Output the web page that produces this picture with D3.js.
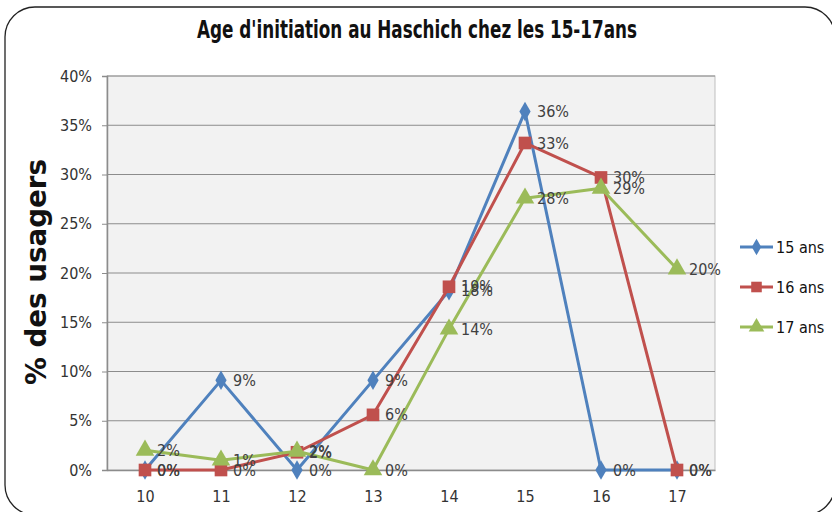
<!DOCTYPE html>
<html>
<head>
<meta charset="utf-8">
<script src="https://cdn.jsdelivr.net/npm/d3@7"></script>
<style>
  body { margin: 0; background: #fff; }
  text { font-family: "DejaVu Sans Condensed", "Open Sans", sans-serif; }
</style>
</head>
<body>
<div class="chartDiv"></div>
<script>
// Age d'initiation au Haschich - line chart

const ages = ["10", "11", "12", "13", "14", "15", "16", "17"];
const yTicks = [0, 0.05, 0.10, 0.15, 0.20, 0.25, 0.30, 0.35, 0.40];
const seriesNames = ["15 ans", "16 ans", "17 ans"];
const vals15 = [0, 9.1, 0, 9.1, 18.2, 36.4, 0, 0];
const vals16 = [0, 0, 1.8, 5.6, 18.6, 33.2, 29.7, 0];
const vals17 = [2.0, 1.0, 1.9, 0, 14.3, 27.6, 28.6, 20.4];

const colors = ["#4f81bd", "#c0504d", "#9bbb59"];
const symbols = [d3.symbolDiamond, d3.symbolSquare, d3.symbolTriangle];
const symSizes = [110, 160, 150];

const labelFont = '"DejaVu Sans Condensed", "Open Sans", sans-serif';

let svgWidth = 832;
let svgHeight = 512;

let margin = { top: 76, bottom: 42, left: 107, right: 117 };
let graphWidth = svgWidth - margin.left - margin.right;
let graphHeight = svgHeight - margin.top - margin.bottom;

let svg = d3.select('.chartDiv')
            .append('svg')
            .attr('width', svgWidth)
            .attr('height', svgHeight);

// outer rounded frame
svg.append('rect')
   .attr('x', 5).attr('y', 7)
   .attr('width', 830).attr('height', 508)
   .attr('rx', 30)
   .attr('fill', 'none')
   .attr('stroke', '#222')
   .attr('stroke-width', 1.3);

svg.append('text')
   .attr('x', 417).attr('y', 38)
   .attr('text-anchor', 'middle')
   .attr('font-size', 24)
   .attr('font-weight', 'bold')
   .attr('fill', '#111')
   .attr('textLength', 440)
   .attr('lengthAdjust', 'spacingAndGlyphs')
   .text("Age d'initiation au Haschich chez les 15-17ans");

let chartGroup = svg.append('g')
                    .attr('transform', `translate(${margin.left}, ${margin.top})`);

let xScale = d3.scalePoint()
               .domain(ages)
               .range([0, graphWidth])
               .padding(0.5);

let yScale = d3.scaleLinear()
               .domain([0, 0.4])
               .range([graphHeight, 0]);

// plot area
chartGroup.append('rect')
          .attr('width', graphWidth)
          .attr('height', graphHeight)
          .attr('fill', '#f2f2f2')
          .attr('stroke', '#bfbfbf');

// gridlines
chartGroup.append('g')
          .selectAll('line')
          .data(yTicks.slice(1))
          .enter().append('line')
          .attr('x1', 0).attr('x2', graphWidth)
          .attr('y1', d => yScale(d)).attr('y2', d => yScale(d))
          .attr('stroke', '#8c8c8c')
          .attr('stroke-width', 1);

let leftaxis = d3.axisLeft(yScale)
                 .tickValues(yTicks)
                 .tickFormat(d3.format('.0%'))
                 .tickSize(5)
                 .tickPadding(10);

let bottomaxis = d3.axisBottom(xScale)
                   .tickSize(0)
                   .tickPadding(21);

let yAxisG = chartGroup.append('g').call(leftaxis);
let xAxisG = chartGroup.append('g')
                       .attr('transform', `translate(0, ${graphHeight})`)
                       .call(bottomaxis);

[yAxisG, xAxisG].forEach(g => {
  g.select('.domain').attr('stroke', '#8c8c8c').attr('stroke-width', 1.5);
  g.selectAll('.tick line').attr('stroke', '#8c8c8c');
  g.selectAll('.tick text')
   .attr('font-family', labelFont)
   .attr('font-size', 16)
   .attr('fill', '#333');
});

svg.append('text')
   .attr('transform', 'translate(46, 272) rotate(-90)')
   .attr('text-anchor', 'middle')
   .attr('font-size', 29)
   .attr('font-weight', 'bold')
   .attr('fill', '#111')
   .attr('font-family', '"Open Sans", sans-serif')
   .attr('textLength', 226)
   .attr('lengthAdjust', 'spacingAndGlyphs')
   .text('% des usagers');

let allSeries = [vals15, vals16, vals17];

let line = d3.line()
             .x((d, i) => xScale(ages[i]))
             .y(d => yScale(d / 100));

allSeries.forEach((vals, s) => {
  chartGroup.append('path')
            .datum(vals)
            .attr('d', line)
            .attr('fill', 'none')
            .attr('stroke', colors[s])
            .attr('stroke-width', 3)
            .attr('stroke-linejoin', 'round');

  chartGroup.selectAll(null)
            .data(vals)
            .enter().append('path')
            .attr('d', d3.symbol().type(symbols[s]).size(symSizes[s]))
            .attr('transform', (d, i) => `translate(${xScale(ages[i])}, ${yScale(d / 100)})`)
            .attr('fill', colors[s]);
});

// data labels
let pct = d3.format('.0%');
allSeries.forEach((vals, s) => {
  chartGroup.selectAll(null)
            .data(vals)
            .enter().append('text')
            .attr('x', (d, i) => xScale(ages[i]) + 12)
            .attr('y', d => yScale(d / 100))
            .attr('dy', '0.35em')
            .attr('font-size', 16)
            .attr('fill', '#404040')
            .text(d => pct(d / 100));
});

// legend
let legend = svg.append('g')
                .attr('transform', 'translate(740, 247)');

seriesNames.forEach((name, s) => {
  let row = legend.append('g').attr('transform', `translate(0, ${s * 40})`);
  row.append('line')
     .attr('x1', 0).attr('x2', 33)
     .attr('stroke', colors[s])
     .attr('stroke-width', 3);
  row.append('path')
     .attr('d', d3.symbol().type(symbols[s]).size(symSizes[s] * 0.7))
     .attr('transform', 'translate(16.5, 0)')
     .attr('fill', colors[s]);
  row.append('text')
     .attr('x', 36).attr('dy', '0.35em')
     .attr('font-size', 16)
     .attr('fill', '#111')
     .text(name);
});
</script>
</body>
</html>
